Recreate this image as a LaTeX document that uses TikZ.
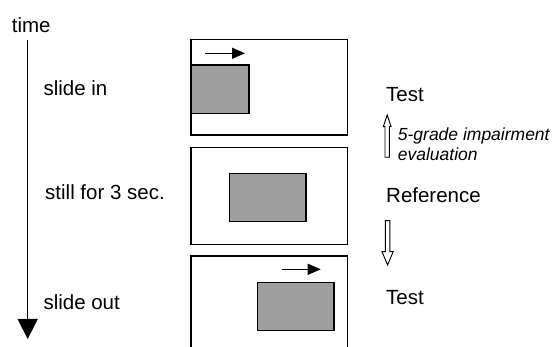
\documentclass[tikz,border=0pt]{standalone}
\usepackage{fontspec}
\setmainfont{Liberation Sans}
\usetikzlibrary{arrows.meta}
\begin{document}
\begin{tikzpicture}[x=1pt,y=-1pt,
  lbl/.style={inner sep=0pt,anchor=base west,font=\fontsize{20.5}{24}\selectfont},
  ilbl/.style={inner sep=0pt,anchor=base west,font=\fontsize{17.5}{21}\selectfont\itshape},
  frame/.style={draw=black,line width=1.4pt},
  pic/.style={draw=black,line width=1.4pt,fill=black!38},
  move/.style={draw=black,line width=1.3pt,-{Triangle[length=13pt,width=11pt]}},
  hollow/.style={draw=black,line width=0.9pt,fill=white}]
\useasboundingbox (0,0) rectangle (560,347);
% time axis
\coordinate (t0) at (27.7,40);
\coordinate (t1) at (27.7,339);
\draw[line width=1.3pt,-{Triangle[length=20pt,width=20pt]}] (t0) -- (t1);
\node[lbl] (time) at (11.7,32.3) {time};
\node[lbl] (sin) at (43.3,96) {slide in};
\node[lbl] (still) at (45,199.3) {still for 3 sec.};
\node[lbl] (sout) at (43.3,310) {slide out};
% frame 1
\draw[frame] (191,39.3) rectangle (347.7,135);
\draw[pic] (191,65) rectangle (249,113.3);
\coordinate (a1) at (205,53.3);
\coordinate (b1) at (245,53.3);
\draw[move] (a1) -- (b1);
% frame 2
\draw[frame] (191,147.7) rectangle (347.7,244.3);
\draw[pic] (229.3,173.3) rectangle (306,221.7);
% frame 3 (cut at the bottom)
\begin{scope}
\clip (0,0) rectangle (560,347);
\draw[frame] (191,360) -- (191,256) -- (347.7,256) -- (347.7,360);
\end{scope}
\draw[pic] (257.3,282.3) rectangle (334,330.7);
\coordinate (a3) at (281.7,269.3);
\coordinate (b3) at (320.7,269.3);
\draw[move] (a3) -- (b3);
% right labels
\node[lbl] (test1) at (386,101.7) {Test};
\node[lbl] (ref) at (386,202.7) {Reference};
\node[lbl] (test2) at (386,305) {Test};
\node[ilbl] (ev1) at (397.7,141) {5-grade impairment};
\node[ilbl] (ev2) at (397.7,161) {evaluation};
% hollow up arrow
\draw[hollow] (385,157.3) -- (385,126.7) -- (383.3,126.7) -- (387.2,115) -- (391.1,126.7) -- (389.4,126.7) -- (389.4,157.3) -- cycle;
% hollow down arrow
\draw[hollow] (385.3,220.7) -- (385.3,251.7) -- (382,251.7) -- (387.6,265) -- (393.2,251.7) -- (389.9,251.7) -- (389.9,220.7) -- cycle;
\end{tikzpicture}
\end{document}
